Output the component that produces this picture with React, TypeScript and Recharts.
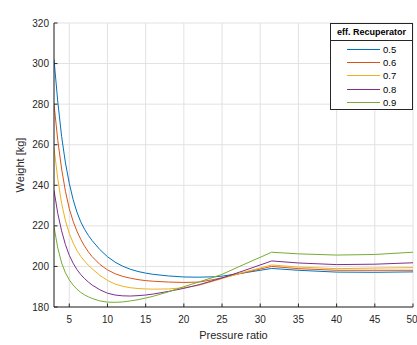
import React from 'react';
import { LineChart, Line, XAxis, YAxis, CartesianGrid, Legend } from 'recharts';

const FONT = '"Liberation Sans", Arial, Helvetica, sans-serif';

const pressureRatio = [3, 3.5, 4, 4.5, 5, 5.5, 6, 6.5, 7, 7.5, 8, 9, 10, 11, 12, 13, 14, 15, 16, 18, 20, 22, 24, 25, 28, 31.5, 35, 40, 45, 50];

const eff05 = [302, 281, 264, 251, 241, 233, 226.8, 222, 218.3, 215.3, 212.7, 208.3, 204.8, 202.1, 200.1, 198.6, 197.5, 196.7, 196.1, 195.3, 194.8, 194.7, 194.9, 195.2, 196.9, 199, 198.1, 197.2, 197.1, 197.3];
const eff06 = [280, 262, 248, 237, 228.5, 222.3, 217.4, 213.4, 210, 207.2, 204.8, 201, 198.3, 196.4, 195.1, 194.2, 193.5, 193, 192.7, 192.3, 192.1, 192.3, 193.6, 194.4, 197, 200, 198.9, 198.1, 198.1, 198.1];
const eff07 = [258.5, 243, 231, 222.5, 216.3, 211.6, 207.9, 205, 202.6, 200.6, 198.8, 195.6, 193.1, 191.3, 190.2, 189.5, 189.1, 188.9, 188.8, 188.9, 189.5, 190.7, 192.9, 194, 197.3, 200.7, 199.7, 198.9, 199.2, 199.4];
const eff08 = [237.5, 226, 217.5, 210.7, 205.5, 201.6, 198.5, 196, 194, 192.3, 190.8, 188.5, 186.8, 185.9, 185.5, 185.4, 185.6, 185.9, 186.4, 187.7, 189.2, 191, 193.2, 194.3, 198.1, 202.7, 201.7, 200.9, 201.1, 201.8];
const eff09 = [219.5, 209, 201.7, 196.8, 193.4, 190.8, 188.8, 187.2, 186, 185, 184.2, 183, 182.4, 182.3, 182.5, 183, 183.6, 184.4, 185.3, 187.5, 190, 192.4, 194.8, 196.1, 201.2, 207, 206.2, 205.6, 205.9, 207];

const seriesNames = ['0.5', '0.6', '0.7', '0.8', '0.9'];
const seriesColors = ['#0072BD', '#D95319', '#EDB120', '#7E2F8E', '#77AC30'];
const seriesValues = [eff05, eff06, eff07, eff08, eff09];

const xTicks = [5, 10, 15, 20, 25, 30, 35, 40, 45, 50];
const yTicks = [180, 200, 220, 240, 260, 280, 300, 320];

const data = pressureRatio.map((x, i) => {
  const row: Record<string, number> = { x };
  seriesValues.forEach((vals, k) => {
    row['s' + k] = vals[i];
  });
  return row;
});

const renderLegend = () => {
  return (
    <div
      style={{
        width: 83,
        height: 87,
        boxSizing: 'border-box',
        border: '1px solid #262626',
        background: '#fff',
        fontFamily: FONT,
        color: '#000',
      }}
    >
      <div
        style={{
          height: 17,
          boxSizing: 'border-box',
          borderBottom: '1px solid #262626',
          fontSize: 9,
          fontWeight: 'bold',
          textAlign: 'center',
          lineHeight: '16px',
          whiteSpace: 'nowrap',
        }}
      >
        eff. Recuperator
      </div>
      <div style={{ paddingTop: 1.5 }}>
        {seriesNames.map((name, k) => (
          <div key={name} style={{ height: 13.3, display: 'flex', alignItems: 'center' }}>
            <svg width={49} height={13} style={{ display: 'block' }}>
              <line x1={16} x2={49} y1={6.5} y2={6.5} stroke={seriesColors[k]} strokeWidth={1} />
            </svg>
            <span style={{ marginLeft: 3, fontSize: 9.5, lineHeight: '13px' }}>{name}</span>
          </div>
        ))}
      </div>
    </div>
  );
};

export default function App() {
  return (
    <div style={{ position: 'absolute', left: 0, top: 0, width: 417, height: 345, background: '#fff' }}>
      <LineChart width={417} height={345} data={data} margin={{ top: 23, right: 4, bottom: 0, left: 0 }}>
        <CartesianGrid xAxisId="b" yAxisId="l" stroke="#e2e2e2" strokeWidth={1} />
        <XAxis
          xAxisId="b"
          dataKey="x"
          type="number"
          domain={[3, 50]}
          ticks={xTicks}
          allowDataOverflow
          height={38}
          tickSize={-3.5}
          tickMargin={12.5}
          stroke="#262626"
          tick={{ fontSize: 10, fill: '#262626', fontFamily: FONT }}
          label={{ value: 'Pressure ratio', position: 'insideBottom', offset: 6, fontSize: 11, fill: '#262626', fontFamily: FONT }}
        />
        <XAxis
          xAxisId="t"
          orientation="top"
          dataKey="x"
          type="number"
          domain={[3, 50]}
          ticks={xTicks}
          allowDataOverflow
          height={0}
          tickSize={-3.5}
          tick={false}
          stroke="#262626"
          label={{ value: 'Total weight: Engine, Fuel, Tank', position: 'top', offset: 6, fontSize: 10.5, fontWeight: 'bold', fill: '#000', fontFamily: FONT }}
        />
        <YAxis
          yAxisId="l"
          type="number"
          domain={[180, 320]}
          ticks={yTicks}
          allowDataOverflow
          width={54}
          tickSize={-3.5}
          tickMargin={8.5}
          stroke="#262626"
          tick={{ fontSize: 10, fill: '#262626', fontFamily: FONT }}
          label={{ value: 'Weight [kg]', angle: -90, position: 'center', dx: -6.5, fontSize: 11, fill: '#262626', fontFamily: FONT }}
        />
        <YAxis
          yAxisId="r"
          orientation="right"
          type="number"
          domain={[180, 320]}
          ticks={yTicks}
          allowDataOverflow
          width={0}
          tickSize={-3.5}
          tick={false}
          stroke="#262626"
        />
        {seriesNames.map((name, k) => (
          <Line
            key={name}
            xAxisId="b"
            yAxisId="l"
            type="linear"
            dataKey={'s' + k}
            name={name}
            stroke={seriesColors[k]}
            strokeWidth={1}
            dot={false}
            activeDot={false}
            isAnimationActive={false}
          />
        ))}
        <Legend
          layout="vertical"
          align="center"
          verticalAlign="middle"
          content={renderLegend}
          wrapperStyle={{ position: 'absolute', left: 330, top: 23, width: 83, height: 87 }}
        />
      </LineChart>
    </div>
  );
}
